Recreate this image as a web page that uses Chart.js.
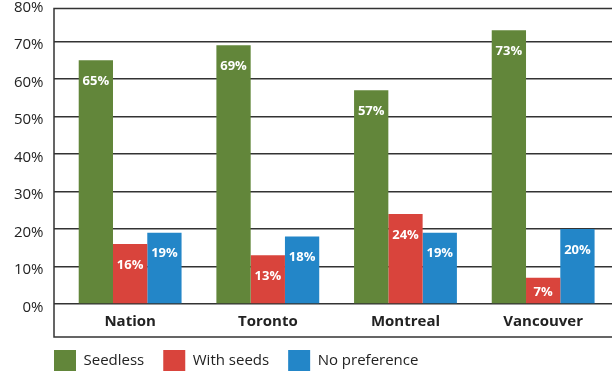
<!DOCTYPE html>
<html><head><meta charset="utf-8">
<script src="https://cdn.jsdelivr.net/npm/chart.js@4/dist/chart.umd.min.js"></script>
<style>html,body{margin:0;padding:0;background:#fff;}#wrap{width:612px;height:373px;}</style>
</head><body><div id="wrap"><canvas id="c" width="612" height="373"></canvas></div>
<script>
const categories = ['Nation', 'Toronto', 'Montreal', 'Vancouver'];
const seedless = [65, 69, 57, 73];
const withSeeds = [16, 13, 24, 7];
const noPreference = [19, 18, 19, 20];
const seriesNames = ['Seedless', 'With seeds', 'No preference'];
const yTickValues = [0, 10, 20, 30, 40, 50, 60, 70, 80];

const FONT = "'Open Sans', sans-serif";
const LINE = '#333';
const TEXT = '#222';
const TICK_LEN = 7.3;
const LEGEND_PAD = 19;

const framePlugin = {
  id: 'frame',
  afterLayout(chart) {
    // align the legend's first box with the left frame line
    if (chart.legend) {
      const frameX = chart.chartArea.left - TICK_LEN;
      const w = chart.legend.right - chart.legend.left;
      chart.legend.left = frameX - LEGEND_PAD;
      chart.legend.right = chart.legend.left + w;
    }
  },
  afterDraw(chart) {
    const ctx = chart.ctx, a = chart.chartArea;
    const left = a.left - TICK_LEN;
    ctx.save();
    ctx.strokeStyle = LINE;
    ctx.lineWidth = 1.5;
    ctx.beginPath();
    ctx.moveTo(chart.width, 8.5);
    ctx.lineTo(left, 8.5);
    ctx.lineTo(left, a.bottom + 33);
    ctx.lineTo(chart.width, a.bottom + 33);
    ctx.stroke();
    ctx.restore();
  }
};

const valueLabels = {
  id: 'valueLabels',
  afterDatasetsDraw(chart) {
    const ctx = chart.ctx;
    ctx.save();
    ctx.font = "bold 13px " + FONT;
    ctx.fillStyle = '#fff';
    ctx.textAlign = 'center';
    ctx.textBaseline = 'middle';
    chart.data.datasets.forEach((ds, i) => {
      chart.getDatasetMeta(i).data.forEach((bar, j) => {
        const y = Math.min(bar.y + 21, bar.base - 11);
        ctx.fillText(ds.data[j] + '%', bar.x, y);
      });
    });
    ctx.restore();
  }
};

const barOpts = {barPercentage: 1, categoryPercentage: 0.747, borderWidth: 0};

new Chart(document.getElementById('c'), {
  type: 'bar',
  data: {
    labels: categories,
    datasets: [
      Object.assign({label: seriesNames[0], data: seedless, backgroundColor: '#62863a'}, barOpts),
      Object.assign({label: seriesNames[1], data: withSeeds, backgroundColor: '#d9443c'}, barOpts),
      Object.assign({label: seriesNames[2], data: noPreference, backgroundColor: '#2386c8'}, barOpts)
    ]
  },
  options: {
    responsive: false,
    animation: false,
    devicePixelRatio: 1,
    layout: {padding: {left: 4, right: -3.7, top: 4, bottom: -8}},
    plugins: {
      legend: {
        position: 'bottom',
        align: 'start',
        labels: {boxWidth: 22, boxHeight: 21, padding: LEGEND_PAD, color: TEXT, font: {family: FONT, size: 15}}
      },
      tooltip: {enabled: false}
    },
    scales: {
      x: {
        grid: {display: false},
        border: {display: false},
        ticks: {color: TEXT, font: {family: FONT, size: 15, weight: 'bold'}, padding: 1, maxRotation: 0},
        afterFit(s) { s.height = 27; s.paddingLeft = 0; s.paddingRight = 0; }
      },
      y: {
        min: 0, max: 80,
        afterBuildTicks(s) { s.ticks = yTickValues.map(v => ({value: v})); },
        grid: {
          color: c => (c.tick && c.tick.value === 80) ? 'rgba(0,0,0,0)' : LINE,
          lineWidth: 1.5, tickLength: TICK_LEN, drawTicks: true
        },
        border: {display: false},
        ticks: {padding: 10.5, labelOffset: 3.5, color: TEXT, font: {family: FONT, size: 15}, callback: v => v + '%'},
        afterFit(s) { s.width = 57.3; s.paddingTop = 0; s.paddingBottom = 0; }
      }
    }
  },
  plugins: [framePlugin, valueLabels]
});
</script>
</body></html>
